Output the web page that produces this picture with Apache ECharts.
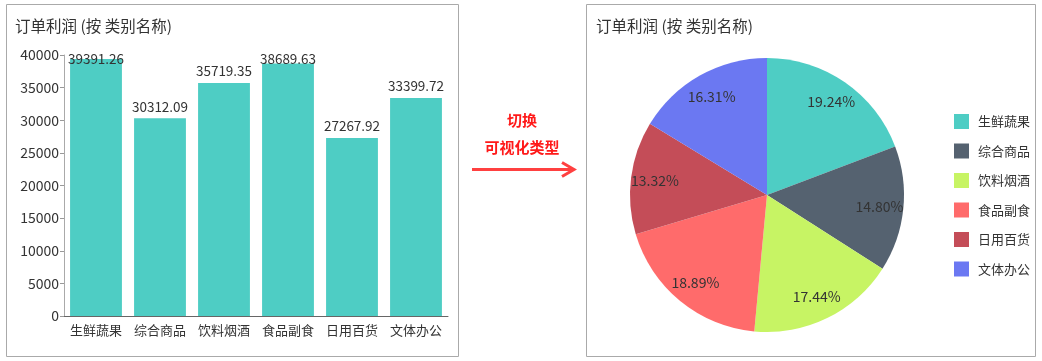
<!DOCTYPE html>
<html>
<head>
<meta charset="utf-8">
<script src="https://cdn.jsdelivr.net/npm/echarts@6/dist/echarts.min.js"></script>
<style>
html,body{margin:0;padding:0;background:#fff;}
#chart{width:1042px;height:361px;}
</style>
</head>
<body>
<div id="chart"></div>
<script>
const chartTitle = '订单利润 (按 类别名称)';
const categories = ['生鲜蔬果', '综合商品', '饮料烟酒', '食品副食', '日用百货', '文体办公'];
const profits = [39391.26, 30312.09, 35719.35, 38689.63, 27267.92, 33399.72];
const yAxisMax = 40000;
const yAxisInterval = 5000;
const sliceColors = ['#4ECDC4', '#556270', '#C7F464', '#FF6B6B', '#C44D58', '#6B78F2'];
const arrowLines = ['切换', '可视化类型'];

const FONT = '"Noto Sans CJK SC", "Noto Sans", sans-serif';
const pieData = categories.map((c, i) => ({ name: c, value: profits[i] }));

const chart = echarts.init(document.getElementById('chart'), null, { renderer: 'canvas' });
chart.setOption({
  animation: false,
  backgroundColor: '#fff',
  textStyle: { fontFamily: FONT },
  color: sliceColors,
  title: [
    { text: chartTitle, left: 15, top: 18, padding: 0,
      textStyle: { fontSize: 15.5, fontWeight: 'normal', color: '#333', fontFamily: FONT } },
    { text: chartTitle, left: 596, top: 18, padding: 0,
      textStyle: { fontSize: 15.5, fontWeight: 'normal', color: '#333', fontFamily: FONT } }
  ],
  grid: { left: 64, right: 594, top: 55, bottom: 45, containLabel: false },
  xAxis: {
    type: 'category',
    data: categories,
    axisLine: { lineStyle: { color: '#666' } },
    axisTick: { alignWithLabel: true, length: 4, lineStyle: { color: '#999' } },
    axisLabel: { interval: 0, color: '#333', fontSize: 13, margin: 8, fontFamily: FONT }
  },
  yAxis: {
    type: 'value',
    min: 0, max: yAxisMax, interval: yAxisInterval,
    axisLine: { show: true, lineStyle: { color: '#aaa' } },
    axisTick: { show: true, length: 4, lineStyle: { color: '#999' } },
    axisLabel: { color: '#333', fontSize: 14, margin: 5, fontFamily: FONT, formatter: v => String(v) },
    splitLine: { show: false }
  },
  legend: {
    orient: 'vertical',
    left: 954, top: 114,
    padding: 0,
    itemWidth: 15, itemHeight: 15, itemGap: 14.5,
    icon: 'rect',
    selectedMode: false,
    data: categories,
    textStyle: { fontSize: 13, color: '#333', fontFamily: FONT, padding: [0, 0, 0, 4] }
  },
  series: [
    {
      type: 'bar',
      data: profits,
      barCategoryGap: '19%',
      itemStyle: { color: sliceColors[0] },
      label: { show: true, position: 'top', distance: 5, color: '#333', fontSize: 13.5, fontFamily: FONT },
      labelLayout: function (p) {
        const r = p.labelRect;
        if (r.y < 52) {
          return { x: r.x + r.width / 2, y: 52, align: 'center', verticalAlign: 'top' };
        }
      }
    },
    {
      type: 'pie',
      center: [767, 195],
      radius: 137,
      startAngle: 90,
      clockwise: true,
      data: pieData,
      label: { show: false },
      labelLine: { show: false },
      itemStyle: { borderWidth: 0 }
    },
    {
      type: 'pie',
      center: [767, 195],
      radius: 220,
      startAngle: 90,
      clockwise: true,
      silent: true,
      z: 3,
      data: pieData,
      itemStyle: { color: 'rgba(0,0,0,0)', borderWidth: 0 },
      label: {
        show: true, position: 'inside', color: '#333', fontSize: 14, fontFamily: FONT,
        formatter: p => p.percent.toFixed(2) + '%'
      },
      labelLine: { show: false }
    }
  ],
  graphic: [
    { type: 'rect', shape: { x: 6.5, y: 4.5, width: 452, height: 352 },
      style: { fill: 'none', stroke: '#aaa', lineWidth: 1 }, silent: true },
    { type: 'rect', shape: { x: 586.5, y: 4.5, width: 449, height: 352 },
      style: { fill: 'none', stroke: '#aaa', lineWidth: 1 }, silent: true },
    { type: 'text', x: 522, y: 120,
      style: { text: arrowLines[0], fill: '#ff1a1a', font: 'bold 15px ' + FONT, align: 'center', verticalAlign: 'middle' } },
    { type: 'text', x: 522, y: 147,
      style: { text: arrowLines[1], fill: '#ff1a1a', font: 'bold 15px ' + FONT, align: 'center', verticalAlign: 'middle' } },
    { type: 'polyline', shape: { points: [[472, 169.5], [573, 169.5]] },
      style: { stroke: '#ff4040', lineWidth: 3, fill: 'none' } },
    { type: 'polyline', shape: { points: [[562, 162.5], [574, 169.5], [562, 176.5]] },
      style: { stroke: '#ff4040', lineWidth: 3, fill: 'none', lineJoin: 'miter' } }
  ]
});
</script>
</body>
</html>
